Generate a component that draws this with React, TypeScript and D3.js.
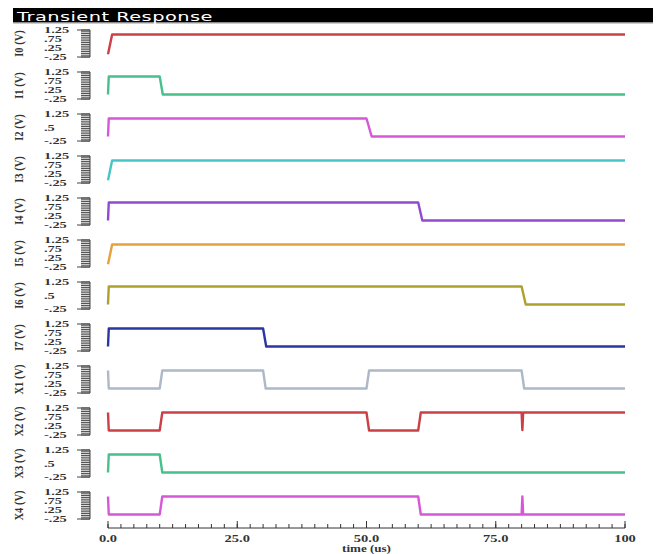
import React from "react";
import * as d3 from "d3";

const W = 656;
const H = 554;

// ---- data ----
const signalNames = ["I0", "I1", "I2", "I3", "I4", "I5", "I6", "I7", "X1", "X2", "X3", "X4"];
const signalColors = [
  "#c8363c", "#3dbd85", "#d44fd6", "#3cc2c4", "#8b3fcc", "#e39c32",
  "#a99c22", "#1f2c9e", "#a9b4c6", "#c8363c", "#3dbd85", "#d44fd6",
];
const tickSetA = [1.25, 0.75, 0.25, -0.25];
const tickSetB = [1.25, 0.5, -0.25];
const yTickSets = [tickSetA, tickSetA, tickSetB, tickSetA, tickSetA, tickSetA, tickSetB, tickSetA, tickSetA, tickSetA, tickSetB, tickSetA];

// waveforms: [time (us), volts]
const waveI0: [number, number][] = [[0, -0.1], [0.8, 1], [100, 1]];
const waveI1: [number, number][] = [[0, 0], [0.15, 1], [10, 1], [10.6, 0], [100, 0]];
const waveI2: [number, number][] = [[0, 0], [0.15, 1], [50, 1], [51, 0], [100, 0]];
const waveI3: [number, number][] = [[0, -0.1], [0.8, 1], [100, 1]];
const waveI4: [number, number][] = [[0, 0], [0.15, 1], [60, 1], [60.8, 0], [100, 0]];
const waveI5: [number, number][] = [[0, -0.1], [0.8, 1], [100, 1]];
const waveI6: [number, number][] = [[0, 0], [0.15, 1], [80, 1], [80.8, 0], [100, 0]];
const waveI7: [number, number][] = [[0, 0], [0.15, 1], [30, 1], [30.6, 0], [100, 0]];
const waveX1: [number, number][] = [[0, 1], [0.15, 0], [10, 0], [10.5, 1], [30, 1], [30.5, 0], [50, 0], [50.5, 1], [80, 1], [80.5, 0], [100, 0]];
const waveX2: [number, number][] = [[0, 1], [0.15, 0], [10, 0], [10.5, 1], [50, 1], [50.5, 0], [60, 0], [60.5, 1], [80, 1], [80.15, 0.02], [80.3, 1], [100, 1]];
const waveX3: [number, number][] = [[0, 0], [0.15, 1], [10, 1], [10.5, 0], [100, 0]];
const waveX4: [number, number][] = [[0, 1], [0.15, 0], [10, 0], [10.5, 1], [60, 1], [60.5, 0], [80, 0], [80.15, 1], [80.3, 0], [100, 0]];
const waveforms = [waveI0, waveI1, waveI2, waveI3, waveI4, waveI5, waveI6, waveI7, waveX1, waveX2, waveX3, waveX4];

const xMajorTicks = [0, 25, 50, 75, 100];
const xMajorLabels = ["0.0", "25.0", "50.0", "75.0", "100"];
const xMinorStep = 2.5;
const xTitle = "time (us)";
const chartTitle = "Transient Response";

// ---- layout ----
const PLOT_L = 108;
const PLOT_R = 625;
const PANEL_TOP = 30;
const PANEL_STEP = 42;
const PANEL_H = 27;
const AXIS_X = 90;
const SX = 1.45; // horizontal stretch of glyphs in the reference
const AXIS_Y = 528;
const SERIF = "'Liberation Serif', 'Times New Roman', serif";

function fmtTick(v: number): string {
  let s = String(v);
  s = s.replace(/^0\./, ".").replace(/^-0\./, "-.");
  return s;
}

export default function App() {
  const x = d3.scaleLinear().domain([0, 100]).range([PLOT_L, PLOT_R]);
  const minorTicks = d3.range(0, 100 + 1e-9, xMinorStep);
  const combTicks = d3.range(-0.25, 1.25 + 1e-9, 0.1);

  return (
    <svg width={W} height={H} style={{ position: "absolute", left: 0, top: 0, background: "#fff" }}>
      {/* title bar */}
      <rect x={13} y={8} width={640} height={14.5} fill="#000" />
      <line x1={13} x2={653} y1={23} y2={23} stroke="#9a9a9a" strokeWidth={1} />
      <g transform={`translate(17,20.5) scale(1.55,1)`}>
        <text x={0} y={0} fill="#fff" fontFamily="'DejaVu Sans', Verdana, sans-serif" fontSize={12.5} letterSpacing={0.3}>
          {chartTitle}
        </text>
      </g>

      {signalNames.map((name, i) => {
        const top = PANEL_TOP + i * PANEL_STEP;
        const y = d3.scaleLinear().domain([-0.25, 1.25]).range([top + PANEL_H, top]);
        const line = d3.line<[number, number]>().x((d) => x(d[0])).y((d) => y(d[1]));
        const ticks = yTickSets[i];
        return (
          <g key={name}>
            {/* y label */}
            <g transform={`translate(23,${top + PANEL_H / 2}) scale(${SX * 0.85},1) rotate(-90)`}>
              <text x={0} y={0} textAnchor="middle" fontFamily={SERIF} fontWeight="bold" fontSize={10.5} fill="#333">
                {`${name} (V)`}
              </text>
            </g>
            {/* comb */}
            <line x1={AXIS_X} x2={AXIS_X} y1={y(1.25)} y2={y(-0.25)} stroke="#444" strokeWidth={1} />
            {combTicks.map((t, k) => (
              <line key={k} x1={AXIS_X - 9} x2={AXIS_X} y1={y(t)} y2={y(t)} stroke="#444" strokeWidth={1} />
            ))}
            {[1.25, -0.25].map((t) => (
              <line key={"m" + t} x1={AXIS_X - 13} x2={AXIS_X} y1={y(t)} y2={y(t)} stroke="#444" strokeWidth={1} />
            ))}
            {ticks.map((t) => (
              <g key={"l" + t} transform={`translate(44,${y(t)}) scale(1.6,1)`}>
                <text x={0} y={0} dy="0.35em" fontFamily={SERIF} fontWeight="bold" fontSize={9} fill="#333">
                  {fmtTick(t)}
                </text>
              </g>
            ))}
            {/* waveform */}
            <path d={line(waveforms[i]) || ""} fill="none" stroke={signalColors[i]} strokeWidth={2.4} strokeLinejoin="round" strokeOpacity={0.95} />
          </g>
        );
      })}

      {/* time axis */}
      <line x1={x(0)} x2={x(100)} y1={AXIS_Y} y2={AXIS_Y} stroke="#333" strokeWidth={1} />
      {minorTicks.map((t, k) => (
        <line key={k} x1={x(t)} x2={x(t)} y1={AXIS_Y} y2={AXIS_Y - 4} stroke="#333" strokeWidth={1} />
      ))}
      {xMajorTicks.map((t) => (
        <line key={"M" + t} x1={x(t)} x2={x(t)} y1={AXIS_Y} y2={AXIS_Y - 7} stroke="#333" strokeWidth={1} />
      ))}
      {xMajorTicks.map((t, k) => (
        <g key={"L" + t} transform={`translate(${x(t)},${AXIS_Y + 14}) scale(${SX},1)`}>
          <text x={0} y={0} textAnchor="middle" fontFamily={SERIF} fontWeight="bold" fontSize={10} fill="#333">
            {xMajorLabels[k]}
          </text>
        </g>
      ))}
      <g transform={`translate(${(x(0) + x(100)) / 2},${AXIS_Y + 24}) scale(${SX * 0.9},1)`}>
        <text x={0} y={0} textAnchor="middle" fontFamily={SERIF} fontWeight="bold" fontSize={10} fill="#333">
          {xTitle}
        </text>
      </g>
    </svg>
  );
}
